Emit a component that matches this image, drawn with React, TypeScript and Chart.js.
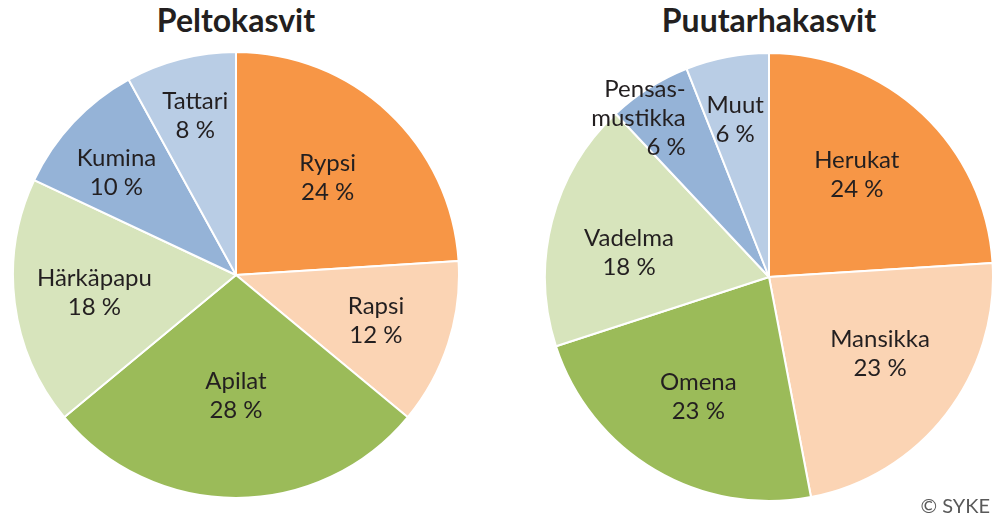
import React, { useEffect, useRef } from "react";
import { Chart, registerables } from "chart.js";

Chart.register(...registerables);

const fieldTitle = "Peltokasvit";
const fieldCategories = ["Rypsi", "Rapsi", "Apilat", "Härkäpapu", "Kumina", "Tattari"];
const fieldValues = [24, 12, 28, 18, 10, 8];

const gardenTitle = "Puutarhakasvit";
const gardenCategories = ["Herukat", "Mansikka", "Omena", "Vadelma", "Pensas-\nmustikka", "Muut"];
const gardenValues = [24, 23, 23, 18, 6, 6];

const sliceColors = ["#F79646", "#FBD4B4", "#9BBB59", "#D7E4BC", "#95B3D7", "#B9CDE5"];

// label placement: fraction of radius, angular shift (degrees) from slice mid-angle, alignment
const fieldLabelRadius = [0.6, 0.66, 0.54, 0.64, 0.705, 0.735];
const fieldLabelShift = [0, 0, 0, 0, -2.7, 0];
const fieldLabelAlign = ["center", "center", "center", "center", "center", "center"];
const gardenLabelRadius = [0.6, 0.603, 0.62, 0.634, 0.918, 0.72];
const gardenLabelShift = [-2.4, -3.1, 0, -4.7, -7, -1.3];
const gardenLabelAlign = ["center", "center", "center", "center", "right", "center"];

const FONT = "Lato, 'Open Sans', sans-serif";

const sliceLabelPlugin = {
  id: "sliceLabels",
  afterDatasetsDraw(chart: any, _args: any, opts: any) {
    const ctx = chart.ctx;
    const meta = chart.getDatasetMeta(0);
    const labels = chart.data.labels as string[];
    const values = chart.data.datasets[0].data as number[];
    ctx.save();
    ctx.font = `24px ${FONT}`;
    ctx.fillStyle = "#231F20";
    ctx.textBaseline = "middle";
    const lh = 29;
    meta.data.forEach((arc: any, i: number) => {
      const p = arc.getProps(["x", "y", "startAngle", "endAngle", "outerRadius"], true);
      const mid = (p.startAngle + p.endAngle) / 2 + ((opts.shift[i] || 0) * Math.PI) / 180;
      const r = p.outerRadius * (opts.radius[i] ?? 0.6);
      const cx = p.x + Math.cos(mid) * r;
      const cy = p.y + Math.sin(mid) * r;
      const lines = [...String(labels[i]).split("\n"), `${values[i]} %`];
      const align = opts.align[i] || "center";
      const maxW = Math.max(...lines.map((l) => ctx.measureText(l).width));
      lines.forEach((line, k) => {
        const y = cy + (k - (lines.length - 1) / 2) * lh;
        if (align === "right") {
          ctx.textAlign = "right";
          ctx.fillText(line, cx + maxW / 2, y);
        } else {
          ctx.textAlign = "center";
          ctx.fillText(line, cx, y);
        }
      });
    });
    ctx.restore();
  },
};

function PieCanvas(props: {
  labels: string[];
  values: number[];
  radius: number[];
  shift: number[];
  align: string[];
  size: number;
  left: number;
  top: number;
}) {
  const ref = useRef<HTMLCanvasElement | null>(null);
  useEffect(() => {
    if (!ref.current) return;
    const chart = new Chart(ref.current, {
      type: "pie",
      data: {
        labels: props.labels,
        datasets: [
          {
            data: props.values,
            backgroundColor: sliceColors,
            borderColor: "#FFFFFF",
            borderWidth: 2,
          },
        ],
      },
      options: {
        animation: false,
        responsive: false,
        maintainAspectRatio: false,
        layout: { padding: 0 },
        plugins: {
          legend: { display: false },
          tooltip: { enabled: false },
          sliceLabels: { radius: props.radius, shift: props.shift, align: props.align },
        } as any,
      },
      plugins: [sliceLabelPlugin],
    });
    return () => chart.destroy();
  }, []);
  return (
    <canvas
      ref={ref}
      width={props.size}
      height={props.size}
      style={{
        position: "absolute",
        left: props.left,
        top: props.top,
        width: props.size,
        height: props.size,
      }}
    />
  );
}

export default function App() {
  useEffect(() => {
    document.body.style.margin = "0";
  }, []);
  const titleStyle = (cx: number): React.CSSProperties => ({
    position: "absolute",
    left: cx - 200,
    width: 400,
    top: 4,
    textAlign: "center",
    fontFamily: FONT,
    fontWeight: 700,
    fontSize: 32,
    lineHeight: "32px",
    color: "#231F20",
  });
  return (
    <div style={{ position: "relative", width: 996, height: 519, background: "#fff", overflow: "hidden" }}>
      <div style={titleStyle(236)}>{fieldTitle}</div>
      <div style={titleStyle(769)}>{gardenTitle}</div>
      <PieCanvas
        labels={fieldCategories}
        values={fieldValues}
        radius={fieldLabelRadius}
        shift={fieldLabelShift}
        align={fieldLabelAlign}
        size={448}
        left={12}
        top={51}
      />
      <PieCanvas
        labels={gardenCategories}
        values={gardenValues}
        radius={gardenLabelRadius}
        shift={gardenLabelShift}
        align={gardenLabelAlign}
        size={450}
        left={544}
        top={52}
      />
      <div
        style={{
          position: "absolute",
          right: 6,
          top: 493,
          fontFamily: FONT,
          fontSize: 20,
          lineHeight: "24px",
          color: "#595959",
        }}
      >
        © SYKE
      </div>
    </div>
  );
}
